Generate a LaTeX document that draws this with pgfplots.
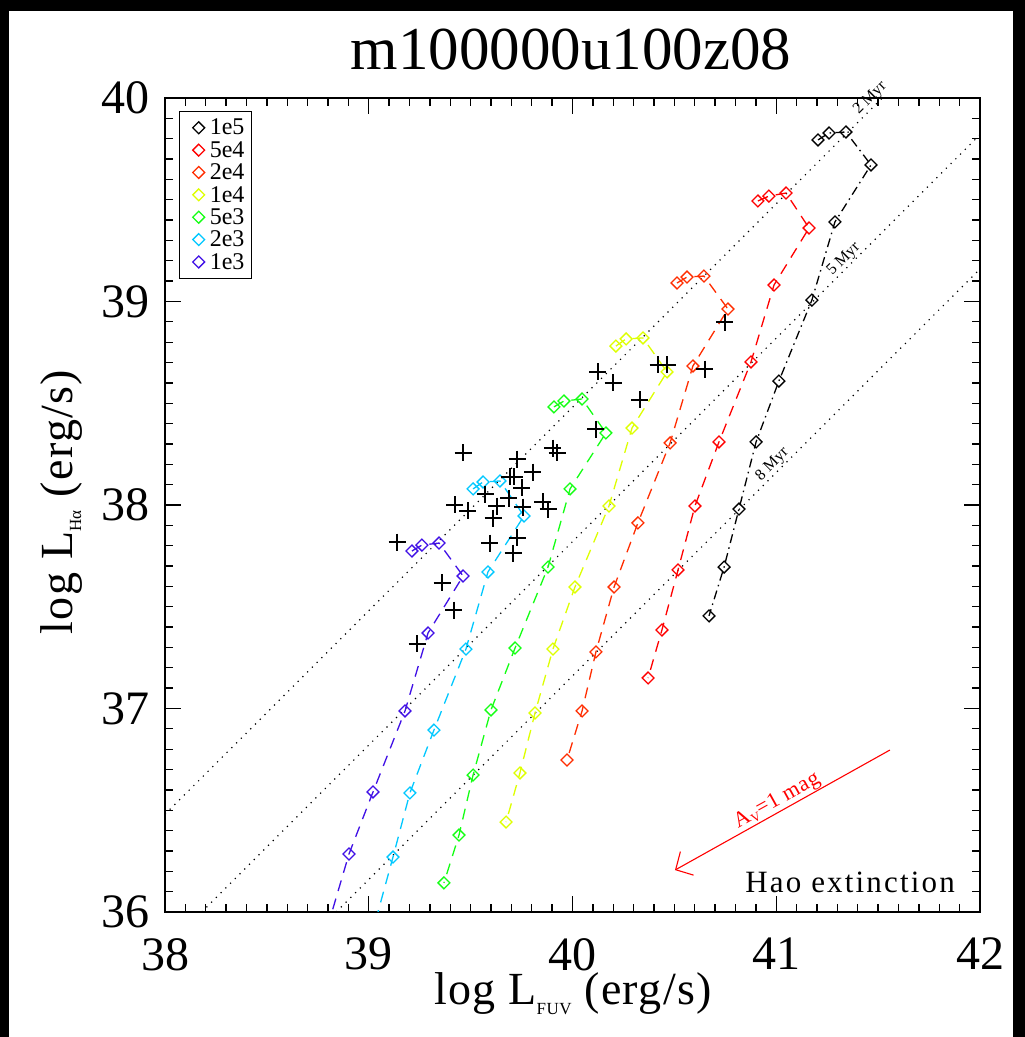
\documentclass[border=0pt]{standalone}
\usepackage{fontspec}
\setmainfont{Liberation Serif}
\newfontfamily\lsfont[LetterSpace=3]{Liberation Serif}
\newfontfamily\hsfont[LetterSpace=7]{Liberation Serif}
\usepackage{pgfplots}
\pgfplotsset{compat=1.18}
\usetikzlibrary{arrows.meta}
\definecolor{cA}{RGB}{255,0,0}
\definecolor{cB}{RGB}{255,45,0}
\definecolor{cC}{RGB}{222,255,0}
\definecolor{cD}{RGB}{20,255,20}
\definecolor{cE}{RGB}{0,200,255}
\definecolor{cF}{RGB}{64,16,230}
\newcommand{\fs}[1]{\fontsize{#1}{#1}\selectfont}
\pgfplotsset{
  trk/.style={line width=1.3pt, dash pattern=on 11pt off 8pt, mark=square, mark size=4.2pt,
    mark options={solid, rotate=45, line width=1.3pt}, forget plot},
  lgd/.style={only marks, mark=square, mark size=4.2pt, mark options={solid, rotate=45, line width=1.3pt}},
  refl/.style={black, line width=1.2pt, dash pattern=on 1.2pt off 5.5pt, forget plot}
}
\begin{document}
\begin{tikzpicture}
\useasboundingbox (0pt,0pt) rectangle (1025pt,1037pt);
\fill[black] (0pt,0pt) rectangle (1025pt,1037pt);
\fill[white] (9pt,0pt) rectangle (1013pt,1026pt);
\begin{axis}[
  at={(165pt,125pt)}, anchor=south west,
  scale only axis, width=815pt, height=814pt,
  xmin=38, xmax=42, ymin=36, ymax=40,
  xtick={38,39,40,41,42}, ytick={36,37,38,39,40},
  minor x tick num=9, minor y tick num=9,
  tick align=inside,
  major tick length=16pt, minor tick length=8pt,
  axis line style={line width=1.8pt},
  every tick/.style={black, line width=1.3pt},
  /pgf/number format/assume math mode=true,
  ticklabel style={font=\fs{48}, inner sep=0pt},
  xticklabel style={yshift=-26pt},
  yticklabel style={xshift=-15pt},
  clip mode=individual,
  legend style={at={(0.0172,0.984)}, anchor=north west, draw=black, line width=1.2pt,
    fill=white, font=\fs{24}, inner xsep=4.5pt, inner ysep=5pt, row sep=0pt,
    nodes={inner sep=2.5pt}},
  legend cell align=left,
  legend image code/.code={\path (-9pt,0pt) (13pt,0pt); \draw[#1] plot coordinates {(5pt,0pt)};},
]
% reference lines
\addplot[refl] coordinates {(38,36.48) (41.52,40)};
\addplot[refl] coordinates {(38.18,36) (42,39.82)};
\addplot[refl] coordinates {(38.84,36) (42,39.16)};
\node[rotate=45, anchor=south, font=\fs{16}, inner sep=1pt] at (axis cs:41.49,39.97) {2 Myr};
\node[rotate=45, anchor=south, font=\fs{16}, inner sep=1pt] at (axis cs:41.36,39.18) {5 Myr};
\node[rotate=45, anchor=south, font=\fs{16}, inner sep=1pt] at (axis cs:41.01,38.17) {8 Myr};
% tracks
\addplot[trk, black, dash pattern=on 9pt off 4.5pt on 1.5pt off 4.5pt] coordinates {
(41.205,39.794) (41.259,39.828) (41.342,39.833) (41.465,39.671) (41.288,39.391) (41.175,39.007)
(41.013,38.609) (40.901,38.310) (40.817,37.980) (40.744,37.695) (40.670,37.455)};
\addplot[trk, cA] coordinates {
(40.910,39.494) (40.964,39.518) (41.048,39.533) (41.161,39.361) (40.989,39.081) (40.876,38.703)
(40.719,38.310) (40.601,37.995) (40.518,37.681) (40.439,37.386) (40.371,37.150)};
\addplot[trk, cB] coordinates {
(40.513,39.091) (40.562,39.120) (40.645,39.125) (40.763,38.963) (40.591,38.683) (40.479,38.305)
(40.321,37.912) (40.204,37.597) (40.115,37.278) (40.047,36.988) (39.973,36.747)};
\addplot[trk, cC] coordinates {
(40.213,38.781) (40.263,38.816) (40.346,38.821) (40.464,38.654) (40.292,38.378) (40.179,37.995)
(40.012,37.597) (39.904,37.292) (39.816,36.978) (39.742,36.683) (39.674,36.442)};
\addplot[trk, cD] coordinates {
(39.909,38.482) (39.958,38.511) (40.047,38.521) (40.164,38.354) (39.988,38.079) (39.880,37.695)
(39.718,37.297) (39.600,36.993) (39.512,36.673) (39.443,36.378) (39.369,36.143)};
\addplot[trk, cE] coordinates {
(39.512,38.079) (39.561,38.113) (39.644,38.118) (39.762,37.946) (39.585,37.671) (39.477,37.292)
(39.320,36.894) (39.202,36.585) (39.119,36.270) (39.018,35.900)};
\addplot[trk, cF] coordinates {
(39.212,37.774) (39.261,37.803) (39.345,37.813) (39.463,37.651) (39.291,37.371) (39.178,36.988)
(39.021,36.590) (38.903,36.285) (38.790,35.900)};
% observed clusters
\addplot[only marks, black, mark=+, mark size=8.5pt, mark options={line width=2pt}, forget plot] coordinates {
(39.463,38.256) (39.728,38.226) (39.904,38.280) (39.924,38.256) (39.806,38.162) (39.693,38.138)
(39.713,38.138) (39.752,38.084) (39.571,38.054) (39.688,38.034) (39.855,38.015) (39.880,37.980)
(39.423,38.000) (39.487,37.971) (39.629,37.995) (39.610,37.936) (39.757,37.990) (39.728,37.838)
(39.595,37.813) (39.708,37.764) (39.139,37.818) (39.360,37.617) (39.418,37.484) (40.125,38.654)
(40.199,38.600) (40.331,38.516) (40.420,38.688) (40.464,38.688) (40.650,38.668) (40.115,38.373)
(40.748,38.899) (39.237,37.317)};
% legend
\addlegendimage{lgd, black}\addlegendentry{1e5}
\addlegendimage{lgd, cA}\addlegendentry{5e4}
\addlegendimage{lgd, cB}\addlegendentry{2e4}
\addlegendimage{lgd, cC}\addlegendentry{1e4}
\addlegendimage{lgd, cD}\addlegendentry{5e3}
\addlegendimage{lgd, cE}\addlegendentry{2e3}
\addlegendimage{lgd, cF}\addlegendentry{1e3}
% extinction vector
\draw[red, line width=1.1pt, -{Straight Barb[length=13pt,width=27pt]}] (axis cs:41.558,36.796) -- (axis cs:40.503,36.206);
\node[red, rotate=29, anchor=south, font=\lsfont\fs{22}, inner sep=1pt] at (axis cs:41.03,36.50) {A\raisebox{-4pt}{\fs{13}V}=1 mag};
\end{axis}
\node[anchor=base east, font=\hsfont\fs{31}, inner sep=0pt] at (955pt,144pt) {Hao extinction};
\node[anchor=base, font=\fs{61}] at (571pt,967pt) {m100000u100z08};
\node[anchor=base, font=\lsfont\fs{46}] at (573pt,32pt) {log L\raisebox{-10pt}{\fs{17}FUV} (erg/s)};
\node[rotate=90, anchor=base, font=\lsfont\fs{46}] at (72pt,535pt) {log L\raisebox{-9pt}{\fs{17}Hα} (erg/s)};
\end{tikzpicture}
\end{document}
